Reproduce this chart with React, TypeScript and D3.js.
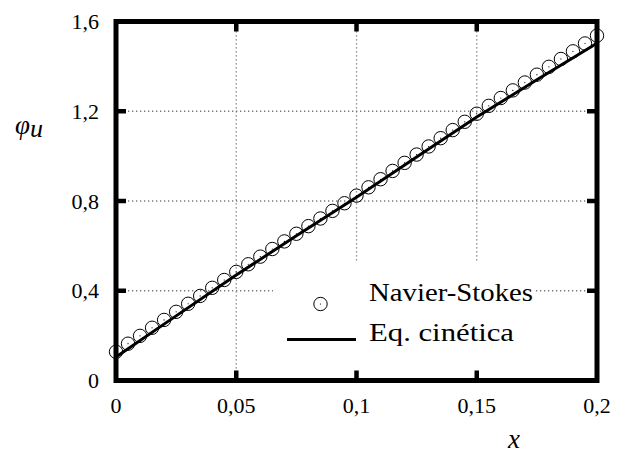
import React from "react";
import * as d3 from "d3";

// Navier-Stokes solution (markers), sampled every 0.005 in x
const nsX: number[] = [
  0, 0.005, 0.01, 0.015, 0.02, 0.025, 0.03, 0.035, 0.04, 0.045,
  0.05, 0.055, 0.06, 0.065, 0.07, 0.075, 0.08, 0.085, 0.09, 0.095,
  0.1, 0.105, 0.11, 0.115, 0.12, 0.125, 0.13, 0.135, 0.14, 0.145,
  0.15, 0.155, 0.16, 0.165, 0.17, 0.175, 0.18, 0.185, 0.19, 0.195, 0.2,
];
const nsY: number[] = [
  0.128, 0.164, 0.199, 0.235, 0.27, 0.306, 0.342, 0.377, 0.413, 0.448,
  0.484, 0.518, 0.552, 0.586, 0.62, 0.654, 0.688, 0.722, 0.756, 0.79,
  0.824, 0.861, 0.897, 0.934, 0.97, 1.007, 1.043, 1.08, 1.116, 1.153,
  1.189, 1.224, 1.259, 1.293, 1.328, 1.363, 1.398, 1.433, 1.467, 1.502, 1.537,
];

// Kinetic equation solution (solid curve)
const kinX: number[] = [0, 0.025, 0.05, 0.075, 0.1, 0.125, 0.15, 0.175, 0.2];
const kinY: number[] = [0.105, 0.288, 0.47, 0.645, 0.817, 0.996, 1.174, 1.34, 1.503];

const xTicks: number[] = [0, 0.05, 0.1, 0.15, 0.2];
const yTicks: number[] = [0, 0.4, 0.8, 1.2, 1.6];
const legendLabels: string[] = ["Navier-Stokes", "Eq. cinética"];

const W = 635;
const H = 455;
const serif = { fontFamily: `"Liberation Serif"` };

const fmt = (v: number) => String(v).replace(".", ",");

export default function App() {
  const x = d3.scaleLinear().domain([0, 0.2]).range([116, 597]);
  const y = d3.scaleLinear().domain([0, 1.6]).range([380.5, 21.5]);
  const [x0, x1] = x.range();
  const [y0, y1] = y.range();

  const line = d3
    .line<number>()
    .x((_, i) => x(kinX[i]))
    .y((d) => y(d));

  const gridX = xTicks.filter((t) => t > 0 && t < 0.2);
  const gridY = yTicks.filter((t) => t > 0 && t < 1.6);
  const tickLen = 10;
  const markerR = 6.7;

  // Key box geometry
  const keyLeft = 273;
  const keyRight = 534;
  const keyTop = 261;
  const keySymX = 320.5;
  const keyTextX = 369;
  const keyRow = [304, 340];

  return (
    <svg width={W} height={H} style={{ position: "absolute", left: 0, top: 0 }}>
      <rect x={0} y={0} width={W} height={H} fill="#fff" />

      {/* grid */}
      <g stroke="#777" strokeWidth={1.3} strokeDasharray="1.3 2.7">
        {gridX.map((t) => (
          <line key={"gx" + t} x1={x(t)} x2={x(t)} y1={y0} y2={y1} />
        ))}
        {gridY.map((t) => (
          <line key={"gy" + t} x1={x0} x2={x1} y1={y(t)} y2={y(t)} />
        ))}
      </g>

      {/* opaque key background */}
      <rect x={keyLeft} y={keyTop} width={keyRight - keyLeft} height={y0 - keyTop - 2} fill="#fff" />

      {/* frame and ticks */}
      <rect x={x0} y={y1} width={x1 - x0} height={y0 - y1} fill="none" stroke="#000" strokeWidth={5} />
      <g stroke="#000" strokeWidth={4.5}>
        {gridX.map((t) => (
          <g key={"tx" + t}>
            <line x1={x(t)} x2={x(t)} y1={y0} y2={y0 - tickLen} />
            <line x1={x(t)} x2={x(t)} y1={y1} y2={y1 + tickLen} />
          </g>
        ))}
        {gridY.map((t) => (
          <g key={"ty" + t}>
            <line x1={x0} x2={x0 + tickLen} y1={y(t)} y2={y(t)} />
            <line x1={x1} x2={x1 - tickLen} y1={y(t)} y2={y(t)} />
          </g>
        ))}
      </g>

      {/* tick labels */}
      {xTicks.map((t) => (
        <text key={"lx" + t} x={x(t)} y={413} textAnchor="middle" fontSize={22} style={serif}>
          {fmt(t)}
        </text>
      ))}
      {yTicks.map((t) => (
        <text key={"ly" + t} x={99} y={y(t) + 7.5} textAnchor="end" fontSize={22} style={serif}>
          {fmt(t)}
        </text>
      ))}

      {/* axis titles */}
      <text x={514} y={448} textAnchor="middle" fontStyle="italic" fontSize={27} style={serif}>
        x
      </text>
      <text x={15} y={134} fontStyle="italic" fontSize={27} style={serif}>
        φ
        <tspan dy={3} fontSize={26}>u</tspan>
      </text>

      {/* kinetic equation curve */}
      <path d={line(kinY) ?? ""} fill="none" stroke="#000" strokeWidth={3} />

      {/* Navier-Stokes markers */}
      {nsY.map((v, i) => (
        <g key={"p" + i}>
          <circle cx={x(nsX[i])} cy={y(v)} r={markerR} fill="none" stroke="#000" strokeWidth={1} />
          <circle cx={x(nsX[i])} cy={y(v)} r={0.6} fill="#000" />
        </g>
      ))}

      {/* key */}
      <circle cx={keySymX} cy={keyRow[0]} r={markerR} fill="none" stroke="#000" strokeWidth={1} />
      <circle cx={keySymX} cy={keyRow[0]} r={0.6} fill="#000" />
      <text x={keyTextX} y={keyRow[0] - 3} fontSize={25} textLength={164} lengthAdjust="spacingAndGlyphs" style={serif}>
        {legendLabels[0]}
      </text>
      <line x1={287} x2={356} y1={keyRow[1] - 0.5} y2={keyRow[1] - 0.5} stroke="#000" strokeWidth={3} />
      <text x={keyTextX} y={keyRow[1] + 1} fontSize={25} textLength={145} lengthAdjust="spacingAndGlyphs" style={serif}>
        {legendLabels[1]}
      </text>
    </svg>
  );
}
